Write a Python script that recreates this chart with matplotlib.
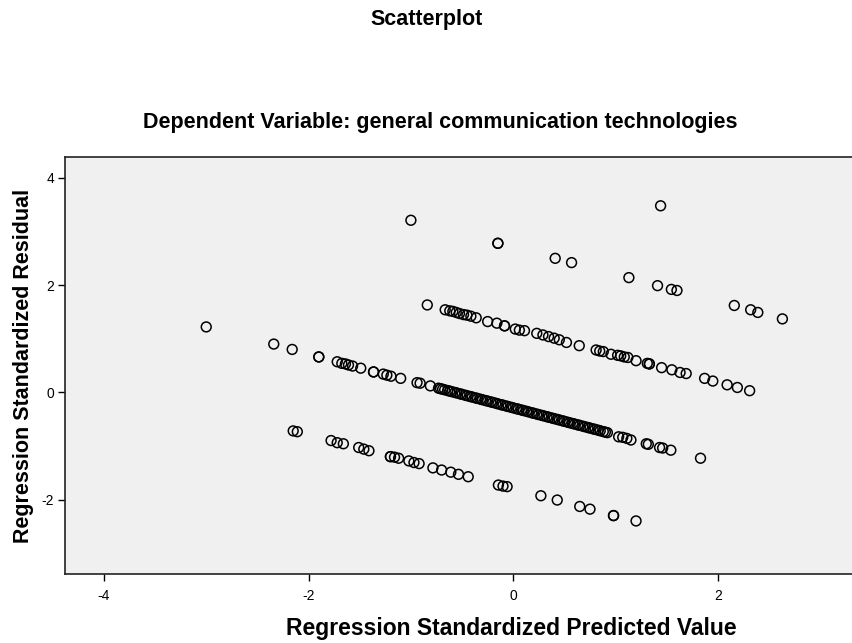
import matplotlib
matplotlib.use("Agg")
import matplotlib.pyplot as plt

plt.rcParams['font.family'] = ['Liberation Sans', 'DejaVu Sans']
plt.rcParams['axes.unicode_minus'] = False

# ------------------------------------------------------------
# data
# ------------------------------------------------------------
# top outlier + residual band around 3 .. 1.4
band_a_x = [1.44, -1.00, -0.15, -0.15, 0.41, 0.57, 1.13, 1.41, 1.545, 1.60,
            2.16, 2.32, 2.39, 2.63]
band_a_y = [3.48, 3.21, 2.78, 2.78, 2.50, 2.42, 2.14, 1.99, 1.92, 1.90,
            1.62, 1.54, 1.49, 1.37]

# second band (1.6 .. 0)
band_b_x = [-0.84, -0.665, -0.62, -0.59, -0.557, -0.525, -0.486, -0.453, -0.414,
            -0.362, -0.25, -0.16, -0.085, -0.085, 0.02, 0.06, 0.11, 0.23, 0.29,
            0.345, 0.40, 0.45, 0.52, 0.645, 0.81, 0.845, 0.88, 0.955, 1.02, 1.05,
            1.085, 1.12, 1.20, 1.31, 1.33, 1.33, 1.45, 1.55, 1.63, 1.69, 1.87,
            1.95, 2.09, 2.19, 2.31]
band_b_y = [1.63, 1.54, 1.52, 1.51, 1.49, 1.47, 1.45, 1.44, 1.42,
            1.39, 1.32, 1.29, 1.24, 1.24, 1.18, 1.16, 1.15, 1.10, 1.07,
            1.04, 1.01, 0.98, 0.93, 0.87, 0.79, 0.77, 0.76, 0.71, 0.69, 0.68,
            0.66, 0.65, 0.59, 0.54, 0.53, 0.53, 0.46, 0.42, 0.37, 0.35, 0.26,
            0.21, 0.14, 0.09, 0.03]

# main band (1.2 .. -1.2)
band_c_x = [-3.00, -2.34, -2.16, -1.90, -1.90, -1.72, -1.675, -1.64, -1.61, -1.57,
            -1.49, -1.365, -1.365, -1.27, -1.235, -1.195, -1.10, -0.94, -0.91, -0.81,
            -0.73, -0.71, -0.69, -0.67, -0.64, -0.62, -0.60, -0.57, -0.55, -0.52,
            -0.50, -0.47, -0.45, -0.42, -0.40, -0.37, -0.35, -0.32, -0.30, -0.27,
            -0.25, -0.22, -0.20, -0.17, -0.15, -0.12, -0.10, -0.07, -0.05, -0.02,
            0.00, 0.03, 0.05, 0.08, 0.10, 0.13, 0.15, 0.18, 0.20, 0.23,
            0.25, 0.28, 0.30, 0.33, 0.35, 0.38, 0.40, 0.43, 0.45, 0.48,
            0.50, 0.53, 0.55, 0.58, 0.60, 0.63, 0.65, 0.68, 0.70, 0.73,
            0.75, 0.78, 0.80, 0.83, 0.85, 0.88, 0.90, 0.92, 1.03, 1.07,
            1.11, 1.15, 1.30, 1.32, 1.43, 1.46, 1.54, 1.83]
band_c_y = [1.22, 0.90, 0.80, 0.66, 0.66, 0.57, 0.54, 0.53, 0.51, 0.49,
            0.45, 0.38, 0.38, 0.34, 0.32, 0.30, 0.26, 0.18, 0.17, 0.12,
            0.077, 0.067, 0.057, 0.047, 0.032, 0.022, 0.012, -0.003, -0.013, -0.028,
            -0.039, -0.054, -0.064, -0.079, -0.089, -0.104, -0.114, -0.129, -0.139, -0.154,
            -0.164, -0.179, -0.189, -0.204, -0.215, -0.230, -0.240, -0.255, -0.265, -0.280,
            -0.290, -0.305, -0.315, -0.330, -0.340, -0.355, -0.365, -0.381, -0.391, -0.406,
            -0.416, -0.431, -0.441, -0.456, -0.466, -0.481, -0.491, -0.506, -0.516, -0.531,
            -0.542, -0.557, -0.567, -0.582, -0.592, -0.607, -0.617, -0.632, -0.642, -0.657,
            -0.667, -0.682, -0.692, -0.707, -0.718, -0.733, -0.743, -0.753, -0.83, -0.84,
            -0.86, -0.89, -0.96, -0.97, -1.03, -1.04, -1.08, -1.23]

# lower band (-0.7 .. -2.4)
band_d_x = [-2.15, -2.11, -1.78, -1.72, -1.66, -1.51, -1.46, -1.41, -1.20, -1.20,
            -1.16, -1.12, -1.02, -0.97, -0.92, -0.785, -0.70, -0.61, -0.535, -0.44,
            -0.145, -0.10, -0.06, 0.27, 0.43, 0.65, 0.75, 0.98, 0.98, 1.20]
band_d_y = [-0.72, -0.735, -0.90, -0.94, -0.96, -1.03, -1.06, -1.09, -1.20, -1.20,
            -1.21, -1.23, -1.28, -1.31, -1.33, -1.41, -1.45, -1.49, -1.53, -1.575,
            -1.73, -1.75, -1.76, -1.93, -2.01, -2.13, -2.18, -2.30, -2.30, -2.40]

pred = band_a_x + band_b_x + band_c_x + band_d_x
resid = band_a_y + band_b_y + band_c_y + band_d_y

x_ticks = [-4, -2, 0, 2]
y_ticks = [-2, 0, 2, 4]

# ------------------------------------------------------------
# FIGURE
# ------------------------------------------------------------
fig = plt.figure(figsize=(8.53, 6.43), dpi=100)
ax = fig.add_axes([0.0762, 0.1073, 0.9238, 0.6485])
ax.set_facecolor('#f0f0f0')

ax.scatter(pred, resid, s=50, facecolors='none', edgecolors='black',
           linewidths=1.1, zorder=3)

ax.set_xlim(-4.38, 3.32)
ax.set_ylim(-3.39, 4.39)
ax.set_xticks(x_ticks)
ax.set_yticks(y_ticks)
ax.tick_params(axis='both', direction='out', length=5, width=1, labelsize=10,
               colors='black')
ax.tick_params(axis='x', pad=6)
ax.tick_params(axis='y', pad=3)
for s in ax.spines.values():
    s.set_linewidth(1.2)
    s.set_color('#222222')

ax.set_xlabel('Regression Standardized Predicted Value', fontsize=16.5,
              fontweight='bold')
ax.set_ylabel('Regression Standardized Residual', fontsize=15.5,
              fontweight='bold')
ax.xaxis.set_label_coords(0.567, -0.103)
ax.yaxis.set_label_coords(-0.039, 0.5)

fig.text(0.5, 0.969, 'Scatterplot', ha='center', va='center', fontsize=15.5,
         fontweight='bold')
fig.text(0.516, 0.81, 'Dependent Variable: general communication technologies',
         ha='center', va='center', fontsize=15.5, fontweight='bold')

fig.savefig('out.png', dpi=100)
